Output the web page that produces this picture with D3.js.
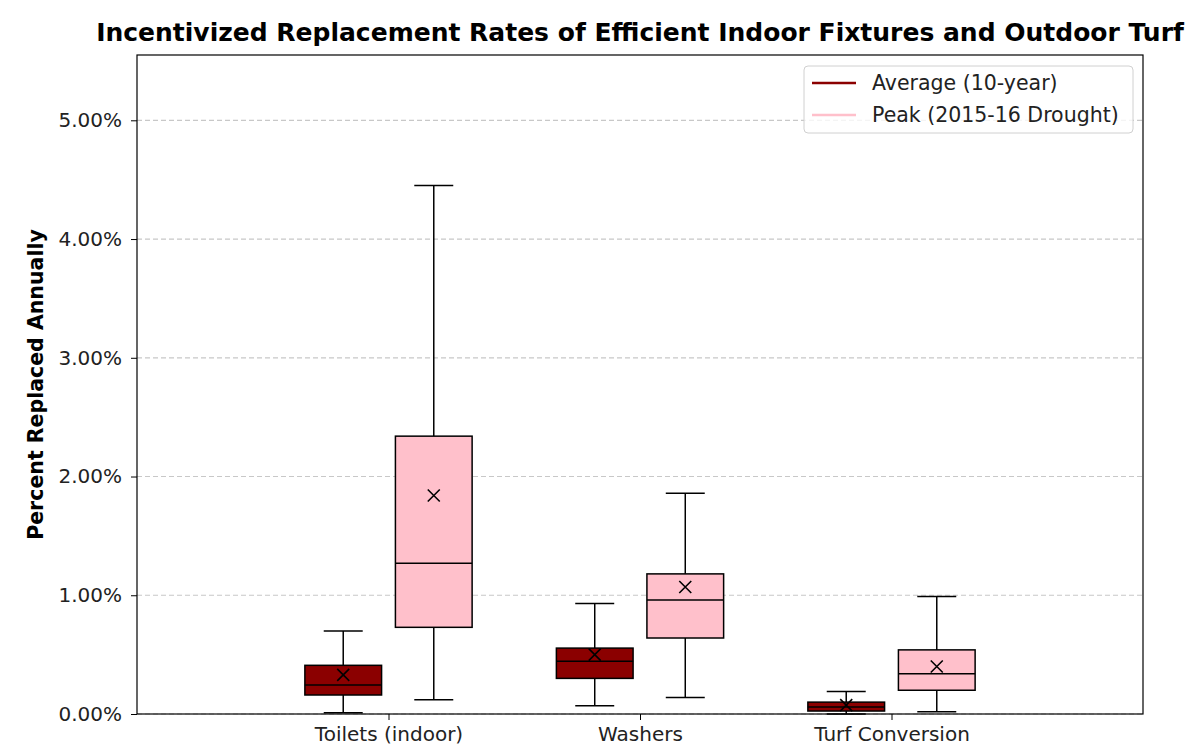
<!DOCTYPE html>
<html>
<head>
<meta charset="utf-8">
<script src="https://cdn.jsdelivr.net/npm/d3@7"></script>
<style>
  body { margin: 0; background: #fff; }
  svg { display: block; font-family: "DejaVu Sans", sans-serif; }
</style>
</head>
<body>
<div id="chart"></div>
<script>
// categories and the two series (values in %)
var categories = ["Toilets (indoor)", "Washers", "Turf Conversion"];
var seriesNames = ["Average (10-year)", "Peak (2015-16 Drought)"];
var seriesColors = ["#8b0000", "#ffc0cb"];

// box stats: [whiskerLow, q1, median, q3, whiskerHigh, mean]
var averageStats = [
  [0.01, 0.16, 0.245, 0.41, 0.70, 0.33],
  [0.07, 0.30, 0.445, 0.555, 0.93, 0.50],
  [0.00, 0.025, 0.06, 0.10, 0.19, 0.075]
];
var peakStats = [
  [0.12, 0.73, 1.27, 2.34, 4.45, 1.84],
  [0.14, 0.64, 0.96, 1.18, 1.86, 1.07],
  [0.02, 0.20, 0.34, 0.54, 0.99, 0.40]
];
var yTicks = [0, 1, 2, 3, 4, 5];

var W = 1199, H = 752;
var margin = {top: 55, right: 56, bottom: 38, left: 137};
var width = W - margin.left - margin.right,
    height = H - margin.top - margin.bottom;

var svg = d3.select("#chart").append("svg")
    .attr("width", W)
    .attr("height", H);

var g = svg.append("g")
    .attr("transform", "translate(" + margin.left + "," + margin.top + ")");

// x positions 1,2,3 on a 0..4 range
var x = d3.scaleLinear().domain([0, 4]).range([0, width]);
var y = d3.scaleLinear().domain([0, 5.55]).range([height, 0]);

// grid
g.selectAll(".grid")
  .data(yTicks)
  .enter().append("line")
    .attr("x1", 0).attr("x2", width)
    .attr("y1", function(d) { return y(d); })
    .attr("y2", function(d) { return y(d); })
    .attr("stroke", "#c8c8c8")
    .attr("stroke-width", 1.2)
    .attr("stroke-dasharray", "5,3");

// boxes
var offset = 0.18, boxW = 0.305, capW = 0.155;
var all = [];
[averageStats, peakStats].forEach(function(stats, s) {
  stats.forEach(function(d, i) {
    all.push({cat: i, s: s, lo: d[0], q1: d[1], med: d[2], q3: d[3], hi: d[4], mean: d[5]});
  });
});

var box = g.selectAll(".box")
  .data(all)
  .enter().append("g")
    .attr("class", "box");

function cx(d) { return x(d.cat + 1 + (d.s === 0 ? -offset : offset)); }
var halfBox = (x(boxW) - x(0)) / 2;
var halfCap = (x(capW) - x(0)) / 2;

// whiskers
box.append("line")
  .attr("x1", cx).attr("x2", cx)
  .attr("y1", function(d) { return y(d.lo); })
  .attr("y2", function(d) { return y(d.q1); })
  .attr("stroke", "#000").attr("stroke-width", 1.5);
box.append("line")
  .attr("x1", cx).attr("x2", cx)
  .attr("y1", function(d) { return y(d.q3); })
  .attr("y2", function(d) { return y(d.hi); })
  .attr("stroke", "#000").attr("stroke-width", 1.5);
// caps
["lo", "hi"].forEach(function(k) {
  box.append("line")
    .attr("x1", function(d) { return cx(d) - halfCap; })
    .attr("x2", function(d) { return cx(d) + halfCap; })
    .attr("y1", function(d) { return y(d[k]); })
    .attr("y2", function(d) { return y(d[k]); })
    .attr("stroke", "#000").attr("stroke-width", 1.5);
});
// box body
box.append("rect")
  .attr("x", function(d) { return cx(d) - halfBox; })
  .attr("width", halfBox * 2)
  .attr("y", function(d) { return y(d.q3); })
  .attr("height", function(d) { return y(d.q1) - y(d.q3); })
  .attr("fill", function(d) { return seriesColors[d.s]; })
  .attr("stroke", "#000").attr("stroke-width", 1.5);
// median
box.append("line")
  .attr("x1", function(d) { return cx(d) - halfBox; })
  .attr("x2", function(d) { return cx(d) + halfBox; })
  .attr("y1", function(d) { return y(d.med); })
  .attr("y2", function(d) { return y(d.med); })
  .attr("stroke", "#000").attr("stroke-width", 1.5);
// mean marker (x)
box.append("path")
  .attr("transform", function(d) { return "translate(" + cx(d) + "," + y(d.mean) + ")"; })
  .attr("d", "M-6,-6L6,6M-6,6L6,-6")
  .attr("stroke", "#000").attr("stroke-width", 1.6)
  .attr("fill", "none");

// frame
g.append("rect")
  .attr("width", width).attr("height", height)
  .attr("fill", "none").attr("stroke", "#000").attr("stroke-width", 1.2);

// axes
var yAxis = g.append("g")
  .call(d3.axisLeft(y).tickValues(yTicks).tickSize(6).tickPadding(9)
    .tickFormat(function(d) { return d.toFixed(2) + "%"; }));
yAxis.select(".domain").remove();
yAxis.selectAll("text").attr("font-size", 20).attr("fill", "#222")
  .attr("font-family", "DejaVu Sans");

var xAxis = g.append("g")
  .attr("transform", "translate(0," + height + ")")
  .call(d3.axisBottom(x).tickValues([1, 2, 3]).tickSize(6).tickPadding(7)
    .tickFormat(function(d) { return categories[d - 1]; }));
xAxis.select(".domain").remove();
xAxis.selectAll("text").attr("font-size", 20).attr("fill", "#222")
  .attr("font-family", "DejaVu Sans");

// title and y label
svg.append("text")
  .attr("x", margin.left + width / 2)
  .attr("y", 41)
  .attr("text-anchor", "middle")
  .attr("font-size", 25)
  .attr("font-weight", "bold")
  .text("Incentivized Replacement Rates of Efficient Indoor Fixtures and Outdoor Turf");

svg.append("text")
  .attr("transform", "translate(43," + (margin.top + height / 2) + ") rotate(-90)")
  .attr("text-anchor", "middle")
  .attr("font-size", 20.5)
  .attr("font-weight", "bold")
  .text("Percent Replaced Annually");

// legend
var lg = g.append("g").attr("transform", "translate(" + (width - 339) + ",11)");
lg.append("rect")
  .attr("width", 329).attr("height", 67).attr("rx", 4)
  .attr("fill", "#fff").attr("fill-opacity", 0.8)
  .attr("stroke", "#d0d0d0");
seriesNames.forEach(function(name, i) {
  var row = lg.append("g").attr("transform", "translate(0," + (17 + i * 32) + ")");
  row.append("line")
    .attr("x1", 8).attr("x2", 52)
    .attr("stroke", seriesColors[i]).attr("stroke-width", 2.5);
  row.append("text")
    .attr("x", 68).attr("dy", "0.35em")
    .attr("font-size", 20.5).attr("fill", "#222")
    .text(name);
});
</script>
</body>
</html>
